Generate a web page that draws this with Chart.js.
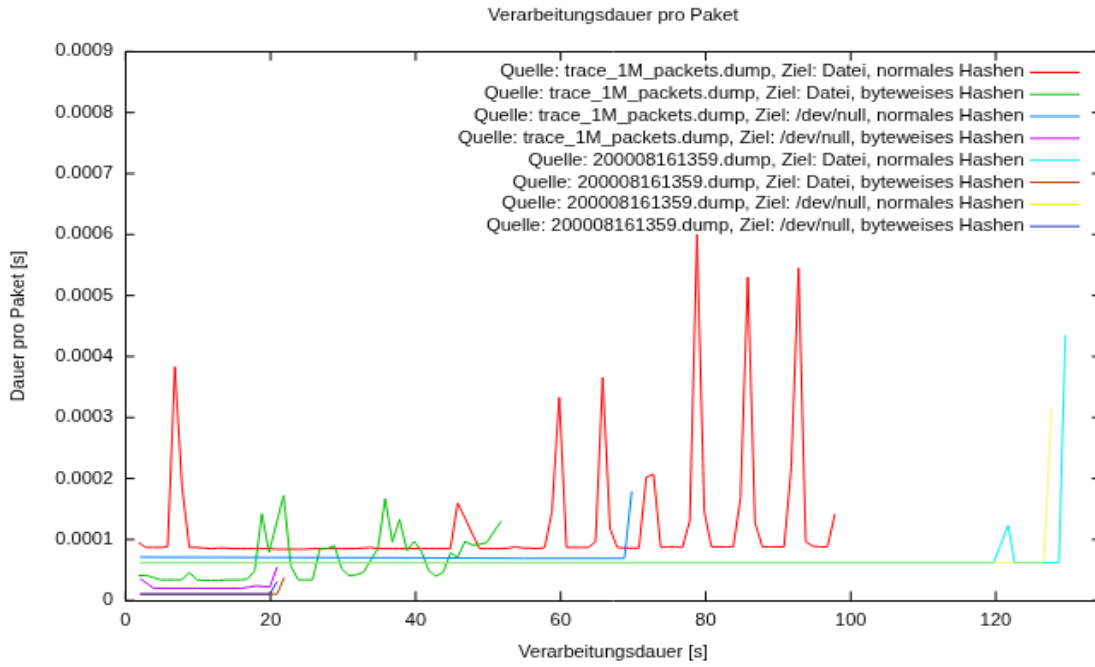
<!DOCTYPE html>
<html>
<head>
<meta charset="utf-8">
<script src="https://cdn.jsdelivr.net/npm/chart.js@4.4.1/dist/chart.umd.min.js"></script>
<style>
  html, body { margin: 0; padding: 0; background: #fff; overflow: hidden; }
  #wrap { width: 1095px; height: 667px; overflow: hidden; }
</style>
</head>
<body>
<div id="wrap">
  <canvas id="myChart" width="650" height="419" style="width:1112.1px;height:667px;display:block"></canvas>
</div>
<script>
// Zeitpunkte in s (gemeinsam fuer die trace_1M Datei-Laeufe)
const zeitpunkte = [
  1.8, 2.8, 3.8, 4.8, 5.8, 6.8, 7.8, 8.8, 9.8, 10.8,
  11.8, 12.8, 13.8, 14.8, 15.8, 16.8, 17.8, 18.8, 19.8, 20.8,
  21.8, 22.8, 23.8, 24.8, 25.8, 26.8, 27.8, 28.8, 29.8, 30.8,
  31.8, 32.8, 33.8, 34.8, 35.8, 36.8, 37.8, 38.8, 39.8, 40.8,
  41.8, 42.8, 43.8, 44.8, 45.8, 46.8, 47.8, 48.8, 49.8, 50.8,
  51.8, 52.8, 53.8, 54.8, 55.8, 56.8, 57.8, 58.8, 59.8, 60.8,
  61.8, 62.8, 63.8, 64.8, 65.8, 66.8, 67.8, 68.8, 69.8, 70.8,
  71.8, 72.8, 73.8, 74.8, 75.8, 76.8, 77.8, 78.8, 79.8, 80.8,
  81.8, 82.8, 83.8, 84.8, 85.8, 86.8, 87.8, 88.8, 89.8, 90.8,
  91.8, 92.8, 93.8, 94.8, 95.8, 96.8, 97.8
];

// Dauer pro Paket in Mikrosekunden
const traceDateiNormal = [
  95, 87, 87, 87, 88, 383, 185, 87, 87, 86,
  85, 86, 86, 85, 85, 85, 85, 85, 85, 84,
  84, 84, 84, 84, 85, 85, 85, 85, 85, 85,
  85, 86, 87, 85, 85, 85, 85, 85, 85, 85,
  85, 85, 85, 85, 160, 135, 110, 85, 85, 85,
  85, 86, 88, 86, 86, 85, 87, 146, 333, 87,
  87, 87, 87, 96, 366, 118, 87, 86, 86, 86,
  202, 207, 87, 88, 88, 87, 131, 600, 146, 88,
  88, 88, 88, 169, 530, 128, 88, 88, 88, 88,
  219, 545, 96, 89, 88, 88, 142
];

const traceDateiByte = [
  41, 41, 38, 34, 34, 34, 34, 46, 34, 33,
  33, 33, 34, 34, 34, 35, 48, 142, 79, 126,
  172, 56, 34, 34, 34, 85, 85, 90, 52, 41,
  42, 46, 66, 85, 167, 96, 133, 82, 97, 81,
  49, 40, 46, 78, 71, 97, 91, 92, 95, 113,
  130
];

const traceNullNormalT = [2.0, 20, 40, 55, 68.8, 69.8];
const traceNullNormal = [71, 70.5, 70, 69, 69, 179];

const traceNullByteT = [2.0, 3.9, 10, 15.9, 17.0, 18.1, 19.0, 19.9, 20.9];
const traceNullByte = [36, 20, 20, 20, 22, 24, 23, 22, 55];

const dumpDateiNormalT = [2.0, 60, 119.7, 121.7, 122.6, 128.7, 129.6];
const dumpDateiNormal = [62, 62, 62, 123, 62, 62, 435];

const dumpDateiByteT = [2.0, 20.0, 20.9, 21.9];
const dumpDateiByte = [10.5, 10.5, 10.5, 38];

const dumpNullNormalT = [2.0, 60, 126.6, 127.7];
const dumpNullNormal = [62, 62, 62, 316];

const dumpNullByteT = [2.0, 19.9, 20.9];
const dumpNullByte = [10.5, 10.5, 31];

const serienNamen = [
  "Quelle: trace_1M_packets.dump, Ziel: Datei, normales Hashen",
  "Quelle: trace_1M_packets.dump, Ziel: Datei, byteweises Hashen",
  "Quelle: trace_1M_packets.dump, Ziel: /dev/null, normales Hashen",
  "Quelle: trace_1M_packets.dump, Ziel: /dev/null, byteweises Hashen",
  "Quelle: 200008161359.dump, Ziel: Datei, normales Hashen",
  "Quelle: 200008161359.dump, Ziel: Datei, byteweises Hashen",
  "Quelle: 200008161359.dump, Ziel: /dev/null, normales Hashen",
  "Quelle: 200008161359.dump, Ziel: /dev/null, byteweises Hashen"
];
const serienFarben = ["#ff0000", "#00c000", "#0080ff", "#c000ff", "#00eeee", "#c04000", "#eeee00", "#3030c8"];
const linienFarben = ["#ff0000", "#00c000", "#0080ff", "#c000ff", "#00eeee", "#c04000", "rgba(238,238,0,0.55)", "#3030c8"];

const xTicks = [0, 20, 40, 60, 80, 100, 120];

function punkte(ts, us) {
  return us.map((v, i) => ({ x: ts[i], y: v / 1e6 }));
}

const serien = [
  punkte(zeitpunkte, traceDateiNormal),
  punkte(zeitpunkte, traceDateiByte),
  punkte(traceNullNormalT, traceNullNormal),
  punkte(traceNullByteT, traceNullByte),
  punkte(dumpDateiNormalT, dumpDateiNormal),
  punkte(dumpDateiByteT, dumpDateiByte),
  punkte(dumpNullNormalT, dumpNullNormal),
  punkte(dumpNullByteT, dumpNullByte)
];

const FONT = { family: '"Liberation Sans", Arial, sans-serif', size: 11 };

// gnuplot-artige Ticks nach innen, auf allen vier Seiten
const innenTicks = {
  id: "innenTicks",
  beforeDatasetsDraw(chart) {
    const { ctx, chartArea: a, scales } = chart;
    ctx.save();
    ctx.strokeStyle = "#000";
    ctx.lineWidth = 1;
    ctx.beginPath();
    scales.x.ticks.forEach((t) => {
      const px = scales.x.getPixelForValue(t.value);
      ctx.moveTo(px, a.bottom);
      ctx.lineTo(px, a.bottom - 5.8);
      ctx.moveTo(px, a.top);
      ctx.lineTo(px, a.top + 5.8);
    });
    scales.y.ticks.forEach((t) => {
      const py = scales.y.getPixelForValue(t.value);
      ctx.moveTo(a.left, py);
      ctx.lineTo(a.left + 5.3, py);
      ctx.moveTo(a.right, py);
      ctx.lineTo(a.right - 5.3, py);
    });
    ctx.stroke();
    ctx.restore();
  }
};

// Legende rechts oben im Plot, Text rechtsbuendig, Linie dahinter
const gnuLegende = {
  id: "gnuLegende",
  afterDatasetsDraw(chart) {
    const { ctx, chartArea: a } = chart;
    ctx.save();
    ctx.font = `${FONT.size}px ${FONT.family}`;
    ctx.textAlign = "right";
    ctx.textBaseline = "middle";
    ctx.fillStyle = "#000";
    ctx.lineWidth = 1;
    serienNamen.forEach((name, i) => {
      const y = a.top + 13.07 + i * 13.82;
      ctx.fillText(name, a.right - 45, y);
      ctx.strokeStyle = serienFarben[i];
      ctx.beginPath();
      ctx.moveTo(a.right - 41.5, y);
      ctx.lineTo(a.right - 12.3, y);
      ctx.stroke();
    });
    ctx.restore();
  }
};

Chart.defaults.font.family = FONT.family;
Chart.defaults.font.size = FONT.size;
Chart.defaults.color = "#000";

new Chart(document.getElementById("myChart"), {
  type: "line",
  data: {
    datasets: serien.map((d, i) => ({
      label: serienNamen[i],
      data: d,
      borderColor: linienFarben[i],
      backgroundColor: linienFarben[i],
      borderWidth: 1,
      pointRadius: 0,
      tension: 0,
      fill: false,
      order: 7 - i
    }))
  },
  options: {
    responsive: false,
    devicePixelRatio: 1,
    animation: false,
    layout: { padding: { left: 0, top: 0, right: 6.5, bottom: 0 } },
    plugins: {
      legend: { display: false },
      tooltip: { enabled: false },
      title: { display: false }
    },
    scales: {
      x: {
        type: "linear",
        position: "bottom",
        min: 0,
        max: 134.5,
        afterBuildTicks: (s) => { s.ticks = xTicks.map((v) => ({ value: v })); },
        ticks: { padding: 5.8, maxRotation: 0, font: FONT },
        grid: { display: false, drawTicks: false },
        border: { display: true, color: "#000", width: 1 },
        title: { display: true, text: "Verarbeitungsdauer [s]", font: FONT, padding: { top: 0, bottom: 2.2 } },
        afterFit: (s) => { s.height = 41.8; }
      },
      x2: {
        type: "linear",
        position: "top",
        min: 0,
        max: 134.5,
        ticks: { display: false },
        grid: { display: false, drawTicks: false },
        border: { display: true, color: "#000", width: 1 },
        title: { display: true, text: "Verarbeitungsdauer pro Paket", font: FONT, padding: { top: 3.67, bottom: 0 } },
        afterFit: (s) => { s.height = 32.35; }
      },
      y: {
        type: "linear",
        position: "left",
        min: 0,
        max: 0.0009,
        ticks: {
          stepSize: 0.0001,
          padding: 7.35,
          font: FONT,
          callback: (v) => String(Number(v.toFixed(4)))
        },
        grid: { display: false, drawTicks: false },
        border: { display: true, color: "#000", width: 1 },
        title: { display: true, text: "Dauer pro Paket [s]", font: FONT, padding: { top: 4.5, bottom: 0 } },
        afterFit: (s) => { s.width = 73.35; }
      },
      y2: {
        type: "linear",
        position: "right",
        min: 0,
        max: 0.0009,
        ticks: { display: false },
        grid: { display: false, drawTicks: false },
        border: { display: true, color: "#000", width: 1 },
        afterFit: (s) => { s.width = 0; }
      }
    }
  },
  plugins: [innenTicks, gnuLegende]
});
</script>
</body>
</html>
